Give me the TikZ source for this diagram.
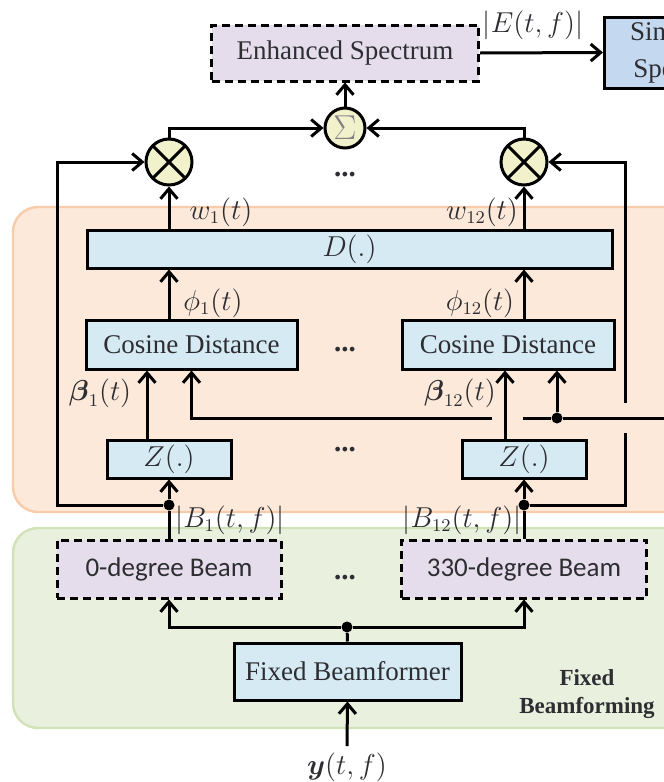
\documentclass[tikz,border=0pt]{standalone}
\usepackage{amsmath}
\usepackage{fontspec}
\setmainfont{Liberation Serif}
\newfontfamily\beamfont{Carlito}
\usetikzlibrary{arrows.meta,positioning,calc}
\definecolor{peach}{RGB}{252,233,218}
\definecolor{peachline}{RGB}{248,203,170}
\definecolor{sage}{RGB}{234,240,222}
\definecolor{sageline}{RGB}{208,226,182}
\definecolor{frost}{RGB}{214,234,244}
\definecolor{lilac}{RGB}{229,221,236}
\definecolor{steel}{RGB}{196,216,240}
\definecolor{cream}{RGB}{241,241,204}
\definecolor{ink}{RGB}{45,45,50}
\tikzset{
  >={Straight Barb[length=5pt,width=8.5pt]},
  block/.style={draw=black,fill=#1,line width=1.5pt,minimum height=19pt,align=center,
    font=\fontsize{13.5}{15}\selectfont,text=ink,inner sep=2pt},
  block/.default=frost,
  dashbox/.style={block=lilac,dash pattern=on 4pt off 2.5pt},
  op/.style={circle,draw=black,fill=cream,line width=1.5pt,inner sep=0pt,minimum size=#1},
  prod/.style={op=23pt,path picture={
    \draw[line width=1.5pt] (path picture bounding box.north west) -- (path picture bounding box.south east)
      (path picture bounding box.north east) -- (path picture bounding box.south west);}},
  flow/.style={->,line width=1.5pt},
  wire/.style={line width=1.5pt},
  junction/.style={circle,fill=black,inner sep=0pt,minimum size=5.5pt},
  lbl/.style={font=\fontsize{13.5}{15}\selectfont,text=ink,inner sep=1pt},
  region/.style={fill=#1,draw=#1line,line width=1.2pt,rounded corners=12.5pt},
}
\begin{document}
\begin{tikzpicture}[x=0.5pt,y=-0.5pt]
  \useasboundingbox (0,0) rectangle (664,782);
  \path[region=peach] (13,207) rectangle (720,512);
  \path[region=sage] (13,528) rectangle (720,728);

  \node[dashbox,minimum width=133.5pt,minimum height=28pt] (es) at (345,53) {Enhanced Spectrum};
  \node[block=steel,anchor=west,minimum width=106.5pt,minimum height=35.5pt,
    font=\fontsize{13.5}{18.5}\selectfont] (spk) at (603,52.5) {Single-channel\\Speech Model};
  \node[op=20pt,font=\fontsize{16}{16}\selectfont,text=ink!60] (sum) at (345,128) {$\Sigma$};
  \node[prod] (m1) at (169,162) {};
  \node[prod] (m2) at (524,162) {};
  \node[block,minimum width=262.5pt,minimum height=19pt] (dist) at (349.5,249) {$D(.)$};
  \node[block,minimum width=105.5pt,minimum height=24.5pt] (cos1) at (191.5,344.5) {Cosine Distance};
  \node[block,minimum width=106pt,minimum height=24.5pt] (cos12) at (508,344.5) {Cosine Distance};
  \node[block,minimum width=62pt,minimum height=19pt] (z1) at (169,459) {$Z(.)$};
  \node[block,minimum width=62pt,minimum height=19pt] (z12) at (524,459) {$Z(.)$};
  \node[dashbox,font=\beamfont\fontsize{13.5}{15}\selectfont,minimum width=112pt,minimum height=29pt] (beam1) at (169,569) {0-degree Beam};
  \node[dashbox,font=\beamfont\fontsize{13.5}{15}\selectfont,minimum width=122.5pt,minimum height=29pt] (beam12) at (524,569) {330-degree Beam};
  \node[block,minimum width=113.5pt,minimum height=28.5pt] (fbf) at (347.5,671.5) {Fixed Beamformer};
  \node[lbl,inner sep=3pt] (ylab) at (347,767) {$\boldsymbol{y}(t,f)$};
  \node[font=\bfseries\fontsize{11.5}{14}\selectfont,align=center,text=ink] (fbl) at (587,694) {Fixed\\Beamforming};

  \foreach \y [count=\i] in {175,350,450,578}
    \node[lbl,font=\bfseries\fontsize{14.5}{15}\selectfont] (dots\i) at (345,\y) {...};

  \node[junction] (j0) at (347,627) {};
  \node[junction] (j1) at (169,505) {};
  \node[junction] (j12) at (524,505) {};
  \node[junction] (jc) at (557,418) {};
  \coordinate (lc) at (57,505);
  \coordinate (rc) at (625,505);
  \coordinate (rlo) at (625,433);
  \coordinate (rhi) at (625,403);
  \coordinate (ext) at (690,418);
  \coordinate (hr) at (523,418);
  \coordinate (hl) at (492,418);

  \draw[flow] (ylab.north) -- (fbf.south);
  \draw[wire] (fbf.north) -- (j0);
  \draw[flow] (j0) -| (beam1.south);
  \draw[flow] (j0) -| (beam12.south);
  \draw[wire] (beam1.north) -- (j1);
  \draw[wire] (beam12.north) -- (j12);
  \draw[flow] (j1) -- (z1.south);
  \draw[flow] (j12) -- (z12.south);
  \draw[flow] (j1) -- (lc) |- (m1.west);
  \draw[wire] (j12) -- (rc) -- (rlo);
  \draw[flow] (rhi) |- (m2.east);
  \draw[wire] (ext) -- (jc) -- (hr);
  \draw[flow] (hl) -| (cos1.south);
  \draw[flow] (jc) -- (jc |- cos12.south);
  \draw[flow] ([xshift=-11pt]z1.north) -- ([xshift=-11pt]z1.north |- cos1.south);
  \draw[flow] ([xshift=-9.5pt]z12.north) -- ([xshift=-9.5pt]z12.north |- cos12.south);
  \draw[flow] (cos1.north -| m1) -- (dist.south -| m1);
  \draw[flow] (cos12.north -| m2) -- (dist.south -| m2);
  \draw[flow] (dist.north -| m1) -- (m1.south);
  \draw[flow] (dist.north -| m2) -- (m2.south);
  \draw[flow] (m1.north) |- (sum.west);
  \draw[flow] (m2.north) |- (sum.east);
  \draw[flow] (sum.north) -- (es.south);
  \draw[flow] (es.east) -- (spk.west);

  \node[lbl] (lE) at (533,25) {$|E(t,f)|$};
  \node[lbl] (lw1) at (221,212) {$w_1(t)$};
  \node[lbl] (lw12) at (482,212) {$w_{12}(t)$};
  \node[lbl] (lphi1) at (213,303) {$\phi_1(t)$};
  \node[lbl] (lphi12) at (480,303) {$\phi_{12}(t)$};
  \node[lbl] (lb1) at (100,393) {$\boldsymbol{\beta}_1(t)$};
  \node[lbl] (lb12) at (460,393) {$\boldsymbol{\beta}_{12}(t)$};
  \node[lbl] (lB1) at (230,520) {$|B_1(t,f)|$};
  \node[lbl] (lB12) at (462,520) {$|B_{12}(t,f)|$};
\end{tikzpicture}
\end{document}
